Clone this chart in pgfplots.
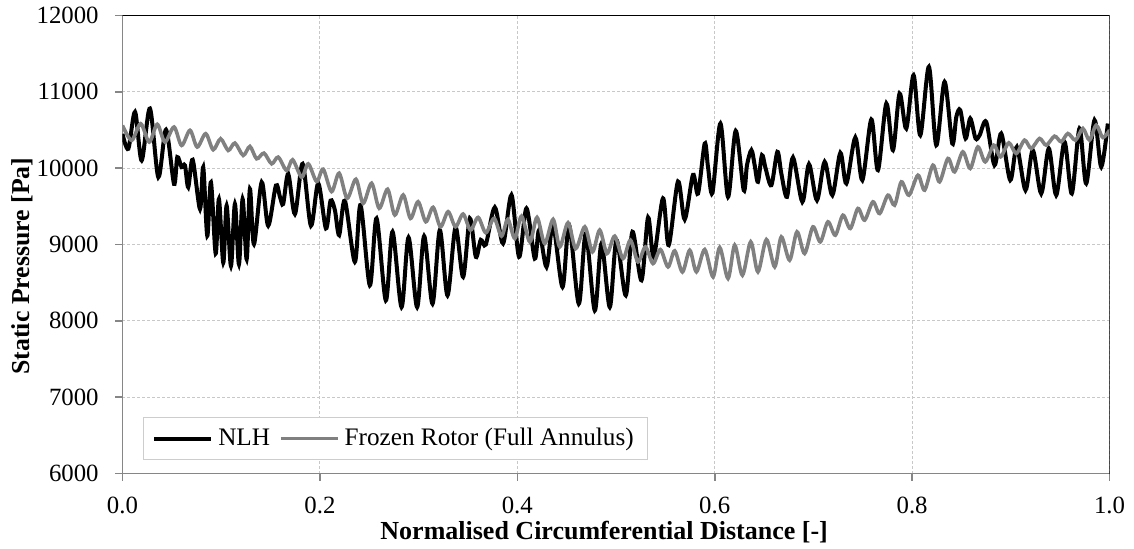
\documentclass[border=0pt]{standalone}
\usepackage{fontspec}
\setmainfont{Liberation Serif}
\usepackage{pgfplots}
\pgfplotsset{compat=1.18}
\definecolor{frgray}{RGB}{128,128,128}
\definecolor{axgray}{RGB}{134,134,134}
\definecolor{gridgray}{RGB}{200,200,200}
\definecolor{leggray}{RGB}{205,205,205}
\begin{document}
\begin{tikzpicture}
\begin{axis}[
  at={(0,0)}, anchor=south west,
  scale only axis, width=493.5bp, height=229bp,
  xmin=0, xmax=1, ymin=6000, ymax=12000,
  xtick={0,0.2,0.4,0.6,0.8,1}, ytick={6000,7000,8000,9000,10000,11000,12000},
  scaled y ticks=false, scaled x ticks=false,
  axis x line*=bottom, axis y line*=left,
  axis line style={axgray, line width=0.8bp},
  tick align=outside, major tick length=3.5bp,
  tick style={axgray, line width=0.8bp},
  grid=major, grid style={gridgray, dash pattern=on 1.5bp off 1bp, line width=0.5bp},
  font=\fontsize{12.4bp}{14bp}\selectfont,
  ticklabel style={font=\fontsize{12.4bp}{14bp}\selectfont},
  /pgf/number format/assume math mode=true,
  xticklabel style={/pgf/number format/fixed, /pgf/number format/fixed zerofill, /pgf/number format/precision=1,
    anchor=north, inner sep=0pt, yshift=-8.1bp},
  yticklabel style={/pgf/number format/1000 sep={}, anchor=east, inner sep=0pt, xshift=-8.25bp},
  xlabel={\textbf{Normalised Circumferential Distance [-]}},
  ylabel={\textbf{Static Pressure [Pa]}},
  xlabel style={at={(axis description cs:0.488,0)}, anchor=base, yshift=-32.75bp, font=\fontsize{13bp}{15bp}\selectfont},
  ylabel style={at={(axis description cs:-0.1018,0.453)}, anchor=center, font=\fontsize{12.9bp}{15bp}\selectfont},
  legend style={at={(axis description cs:0,0)}, anchor=south west, xshift=10.15bp, yshift=6.5bp,
    draw=leggray, line width=0.5bp, legend columns=2, inner xsep=4.5bp, inner ysep=3.6bp,
    nodes={inner xsep=2.5bp},
    font=\fontsize{12.6bp}{14.5bp}\selectfont,
    /tikz/every even column/.append style={column sep=2bp}},
  legend image code/.code={\path (0bp,0bp) -- (3.5bp,0bp); \draw[#1] (3.5bp,0bp) -- (28.5bp,0bp);},
]
\addplot[black, line width=2bp, smooth, tension=0.5] coordinates {
(0.0000,10450) (0.0059,10254) (0.0127,10737) (0.0194,10101) (0.0278,10781)
(0.0363,9882) (0.0441,10504) (0.0522,9794) (0.0555,10145) (0.0599,10013)
(0.0633,10035) (0.0666,9750) (0.0711,10110) (0.0785,9465) (0.0818,10013)
(0.0859,9114) (0.0896,9816) (0.0944,8882) (0.0977,9596) (0.1021,8763)
(0.1055,9509) (0.1099,8719) (0.1139,9531) (0.1180,8741) (0.1217,9596)
(0.1258,8807) (0.1291,9728) (0.1332,9004) (0.1410,9816) (0.1476,9246)
(0.1554,9772) (0.1595,9627) (0.1628,9531) (0.1679,9925) (0.1747,9399)
(0.1825,10057) (0.1909,9246) (0.1983,9803) (0.2061,9211) (0.2108,9575)
(0.2152,9450) (0.2195,9123) (0.2253,9575) (0.2354,8772) (0.2412,9518)
(0.2506,8465) (0.2574,9342) (0.2668,8268) (0.2736,9167) (0.2827,8180)
(0.2898,9092) (0.2985,8180) (0.3056,9110) (0.3141,8224) (0.3215,9189)
(0.3293,8333) (0.3374,9224) (0.3451,8575) (0.3519,9342) (0.3580,8838)
(0.3630,9060) (0.3681,9000) (0.3772,9487) (0.3856,9013) (0.3941,9649)
(0.4018,8838) (0.4093,9474) (0.4177,8816) (0.4221,9189) (0.4296,8706)
(0.4363,9254) (0.4458,8443) (0.4525,9254) (0.4623,8224) (0.4694,9145)
(0.4785,8136) (0.4853,9013) (0.4937,8180) (0.5005,9057) (0.5099,8333)
(0.5167,9167) (0.5258,8531) (0.5325,9355) (0.5382,8838) (0.5476,9605)
(0.5534,8991) (0.5628,9825) (0.5696,9329) (0.5780,9912) (0.5831,9668)
(0.5899,10323) (0.5932,10017) (0.5977,9677) (0.6058,10585) (0.6135,9624)
(0.6213,10489) (0.6294,9712) (0.6327,10039) (0.6372,10236) (0.6405,10039)
(0.6438,9821) (0.6479,10170) (0.6516,9996) (0.6574,9777) (0.6635,10214)
(0.6675,9930) (0.6732,9624) (0.6793,10140) (0.6888,9559) (0.6955,10052)
(0.7036,9581) (0.7114,10083) (0.7192,9646) (0.7273,10201) (0.7334,9799)
(0.7425,10402) (0.7496,9843) (0.7587,10638) (0.7654,9974) (0.7739,10847)
(0.7806,10236) (0.7873,10978) (0.7941,10520) (0.8015,11218) (0.8083,10432)
(0.8170,11328) (0.8245,10301) (0.8329,11131) (0.8407,10323) (0.8448,10672)
(0.8488,10760) (0.8542,10389) (0.8589,10651) (0.8643,10389) (0.8684,10432)
(0.8751,10607) (0.8835,10039) (0.8903,10454) (0.8994,9843) (0.9061,10279)
(0.9149,9712) (0.9223,10236) (0.9308,9668) (0.9385,10258) (0.9460,9646)
(0.9544,10345) (0.9618,9668) (0.9696,10520) (0.9764,9799) (0.9848,10629)
(0.9916,10017) (0.9983,10585)
};
\addlegendentry{NLH}
\addplot[frgray, line width=1.8bp, smooth, tension=0.5] coordinates {
(0.0000,10560) (0.0093,10364) (0.0184,10583) (0.0271,10342) (0.0352,10575)
(0.0430,10342) (0.0522,10539) (0.0599,10298) (0.0684,10496) (0.0757,10276)
(0.0843,10452) (0.0919,10241) (0.0994,10386) (0.1071,10232) (0.1139,10329)
(0.1223,10167) (0.1291,10285) (0.1359,10123) (0.1433,10197) (0.1511,10057)
(0.1578,10145) (0.1663,9969) (0.1724,10110) (0.1815,9882) (0.1882,10057)
(0.1967,9825) (0.2033,9987) (0.2118,9693) (0.2195,9934) (0.2276,9605)
(0.2365,9855) (0.2438,9539) (0.2524,9803) (0.2601,9474) (0.2686,9724)
(0.2759,9386) (0.2844,9649) (0.2918,9342) (0.2995,9561) (0.3073,9298)
(0.3147,9487) (0.3222,9232) (0.3299,9430) (0.3374,9232) (0.3451,9399)
(0.3526,9189) (0.3603,9355) (0.3681,9154) (0.3765,9342) (0.3840,9110)
(0.3904,9330) (0.3975,9079) (0.4043,9373) (0.4127,9035) (0.4200,9355)
(0.4278,9013) (0.4363,9329) (0.4430,8969) (0.4514,9285) (0.4592,8947)
(0.4684,9232) (0.4762,8904) (0.4835,9189) (0.4909,8882) (0.4987,9110)
(0.5071,8816) (0.5146,9057) (0.5223,8772) (0.5298,8969) (0.5375,8750)
(0.5450,8934) (0.5527,8706) (0.5595,8917) (0.5673,8640) (0.5747,8925)
(0.5815,8642) (0.5899,8934) (0.5983,8576) (0.6051,8961) (0.6135,8555)
(0.6203,8991) (0.6281,8598) (0.6365,9035) (0.6438,8642) (0.6524,9065)
(0.6608,8707) (0.6675,9100) (0.6759,8795) (0.6834,9166) (0.6911,8882)
(0.6995,9231) (0.7070,9035) (0.7147,9297) (0.7222,9122) (0.7299,9384)
(0.7374,9210) (0.7451,9472) (0.7519,9319) (0.7603,9559) (0.7671,9406)
(0.7755,9646) (0.7823,9515) (0.7891,9821) (0.7968,9646) (0.8059,9908)
(0.8127,9712) (0.8211,10039) (0.8278,9821) (0.8363,10127) (0.8430,9952)
(0.8514,10214) (0.8589,9996) (0.8666,10279) (0.8741,10083) (0.8828,10301)
(0.8896,10148) (0.8980,10332) (0.9055,10192) (0.9139,10367) (0.9207,10258)
(0.9291,10389) (0.9359,10301) (0.9443,10419) (0.9511,10345) (0.9578,10454)
(0.9656,10367) (0.9730,10520) (0.9797,10367) (0.9865,10563) (0.9932,10402)
(1.0000,10498)
};
\addlegendentry{Frozen Rotor (Full Annulus)}
\draw[black, line width=0.8bp] (rel axis cs:0,1) -- (rel axis cs:1,1) -- (rel axis cs:1,0);
\end{axis}
\pgfresetboundingbox
\path[use as bounding box] (-61.25bp,-37.75bp) rectangle (505.75bp,236.75bp);
\end{tikzpicture}
\end{document}
